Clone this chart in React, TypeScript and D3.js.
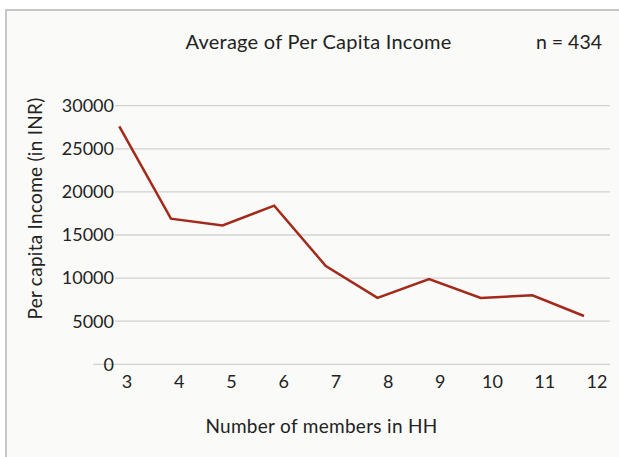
import React from "react";
import * as d3 from "d3";

const categories = ["3", "4", "5", "6", "7", "8", "9", "10", "11", "12"];
const incomeValues = [27600, 16900, 16100, 18400, 11400, 7700, 9900, 7700, 8000, 5600];
const yTicks = [0, 5000, 10000, 15000, 20000, 25000, 30000];
const titleText = "Average of Per Capita Income";
const nText = "n = 434";
const xTitle = "Number of members in HH";
const yTitle = "Per capita Income (in INR)";

const W = 619;
const H = 457;
const FONT = "Lato, 'Open Sans', sans-serif";

export default function App() {
  const x = d3.scalePoint<string>().domain(categories).range([119.3, 584]);
  const xLabel = d3.scalePoint<string>().domain(categories).range([127, 597]);
  const y = d3.scaleLinear().domain([0, 30000]).range([364.3, 105.7]);
  const line = d3
    .line<number>()
    .x((_, i) => x(categories[i]) as number)
    .y((d) => y(d));

  return (
    <svg
      width={W}
      height={H}
      style={{ position: "absolute", left: 0, top: 0, background: "#ffffff" }}
      fontFamily={FONT}
    >
      <rect x={6} y={10} width={W + 10} height={H + 10} fill="#fafaf8" stroke="#c6c6c6" strokeWidth={2} />
      <text x={318.5} y={49} fontSize={20} letterSpacing={0.25} fill="#222" textAnchor="middle">
        {titleText}
      </text>
      <text x={602} y={49} fontSize={19.5} fill="#222" textAnchor="end">
        {nText}
      </text>
      {yTicks.map((t) => (
        <g key={t}>
          <line
            x1={t === 0 ? 93 : 115}
            x2={610}
            y1={y(t)}
            y2={y(t)}
            stroke="#d2d2d2"
            strokeWidth={1.3}
          />
          <text x={114} y={y(t)} dy="0.35em" fontSize={18} fill="#222" textAnchor="end">
            {t}
          </text>
        </g>
      ))}
      {categories.map((c) => (
        <text key={c} x={xLabel(c)} y={388} fontSize={18} fill="#222" textAnchor="middle">
          {c}
        </text>
      ))}
      <path d={line(incomeValues) || ""} fill="none" stroke="#a3291b" strokeWidth={2.5} strokeLinejoin="miter" />
      <text x={321.5} y={433} fontSize={19} letterSpacing={0.3} fill="#222" textAnchor="middle">
        {xTitle}
      </text>
      <text
        transform={`translate(42, 208.5) rotate(-90)`}
        fontSize={19}
        letterSpacing={0.27}
        fill="#222"
        textAnchor="middle"
      >
        {yTitle}
      </text>
    </svg>
  );
}
